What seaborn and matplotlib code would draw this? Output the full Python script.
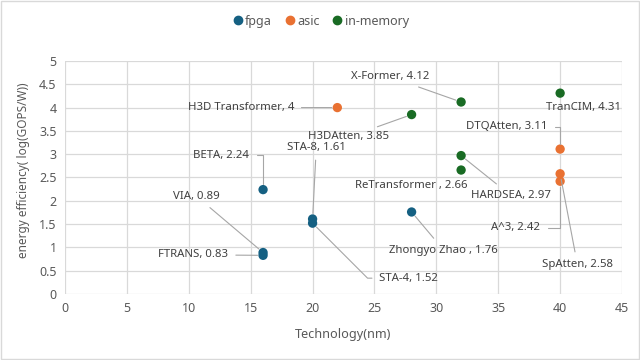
import matplotlib
matplotlib.use("Agg")
import matplotlib.pyplot as plt
import seaborn as sns
import pandas as pd
from matplotlib.patches import Rectangle

sns.set_theme(style="white")
plt.rcParams['font.family'] = ['Noto Sans', 'DejaVu Sans']

# ---- data ----
names = ["VIA", "FTRANS", "BETA", "STA-8", "STA-4", "Zhongyo Zhao ",
         "H3D Transformer", "DTQAtten", "A^3", "SpAtten",
         "X-Former", "TranCIM", "H3DAtten", "ReTransformer ", "HARDSEA"]
tech = [16, 16, 16, 20, 20, 28,
        22, 40, 40, 40,
        32, 40, 28, 32, 32]
eff = [0.89, 0.83, 2.24, 1.61, 1.52, 1.76,
       4, 3.11, 2.42, 2.58,
       4.12, 4.31, 3.85, 2.66, 2.97]
group = ["fpga"] * 6 + ["asic"] * 4 + ["in-memory"] * 5
groups = ["fpga", "asic", "in-memory"]
colors = ["#156082", "#E97132", "#196B24"]

# label placement (data coords), alignment, leader style
lab_x = [12.5, 13.2, 14.9, 20.3, 25.4, 30.6,
         18.5, 38.95, 38.4, 41.4,
         29.4, 41.9, 26.2, 28.0, 36.0]
lab_y = [2.10, 0.84, 2.98, 3.15, 0.34, 0.94,
         4.00, 3.59, 1.42, 0.51,
         4.66, 4.01, 3.37, 2.32, 2.00]
lab_ha = ["right", "right", "right", "center", "left", "center",
          "right", "right", "right", "center",
          "right", "center", "right", "center", "center"]
lab_va = ["center", "center", "center", "center", "center", "center",
          "center", "center", "center", "bottom",
          "center", "center", "center", "center", "bottom"]
leader = ["straight", "straight", "angle", "straight", "angle2", "straight",
          "straight", "angle", "angle", "straight",
          "straight", None, "straight", None, "straight"]

df = pd.DataFrame({"name": names, "tech": tech, "eff": eff, "group": group})

fig = plt.figure(figsize=(6.4, 3.6), dpi=100)
ax = fig.add_axes([0.1016, 0.1833, 0.8703, 0.6473])

sns.scatterplot(data=df, x="tech", y="eff", hue="group", hue_order=groups,
                palette=colors, s=45, edgecolor=None, linewidth=0, ax=ax,
                zorder=3, legend=False)

ax.set_xlim(0, 45)
ax.set_ylim(0, 5)
ax.set_xticks(range(0, 46, 5))
ax.set_yticks([i * 0.5 for i in range(11)])
ax.set_yticklabels(["0", "0.5", "1", "1.5", "2", "2.5", "3", "3.5", "4", "4.5", "5"])
ax.grid(True, color="#D9D9D9", linewidth=0.9)
ax.set_axisbelow(True)
for s in ax.spines.values():
    s.set_visible(False)
ax.tick_params(axis="both", length=0, labelsize=9, colors="#595959", pad=6)
ax.set_xlabel("Technology(nm)", fontsize=9.1, color="#595959")
ax.set_ylabel("energy efficiency( log(GOPS/W))", fontsize=8.5, color="#595959")
ax.xaxis.set_label_coords(0.5, -0.145)
ax.yaxis.set_label_coords(-0.062, 0.53)

gray = "#A6A6A6"
fs = 8.2
for n, x, y, lx, ly, ha, va, ld in zip(names, tech, eff, lab_x, lab_y, lab_ha, lab_va, leader):
    txt = f"{n}, {y:g}"
    if ld is None:
        ax.text(lx, ly, txt, ha=ha, va=va, fontsize=fs, color="#404040")
        continue
    if ld == "angle":
        cs = "angle,angleA=0,angleB=90,rad=0"
    elif ld == "angle2":
        cs = "angle,angleA=0,angleB=-45,rad=0"
    else:
        cs = "arc3,rad=0"
    ax.annotate(txt, xy=(x, y), xytext=(lx, ly), ha=ha, va=va, fontsize=fs,
                color="#404040",
                arrowprops=dict(arrowstyle="-", color=gray, lw=0.8,
                                shrinkA=3, shrinkB=4, connectionstyle=cs))

# legend
handles = [plt.Line2D([], [], marker="o", linestyle="", color=c, markersize=6) for c in colors]
fig.legend(handles, groups, loc="upper center", bbox_to_anchor=(0.5, 0.99), ncol=3,
           frameon=False, fontsize=9, handletextpad=0.1, columnspacing=0.9,
           labelcolor="#595959", handlelength=1.0)

fig.add_artist(Rectangle((0.002, 0.003), 0.996, 0.994, transform=fig.transFigure,
                         fill=False, edgecolor="#D9D9D9", linewidth=1))

fig.savefig("out.png", dpi=100)
